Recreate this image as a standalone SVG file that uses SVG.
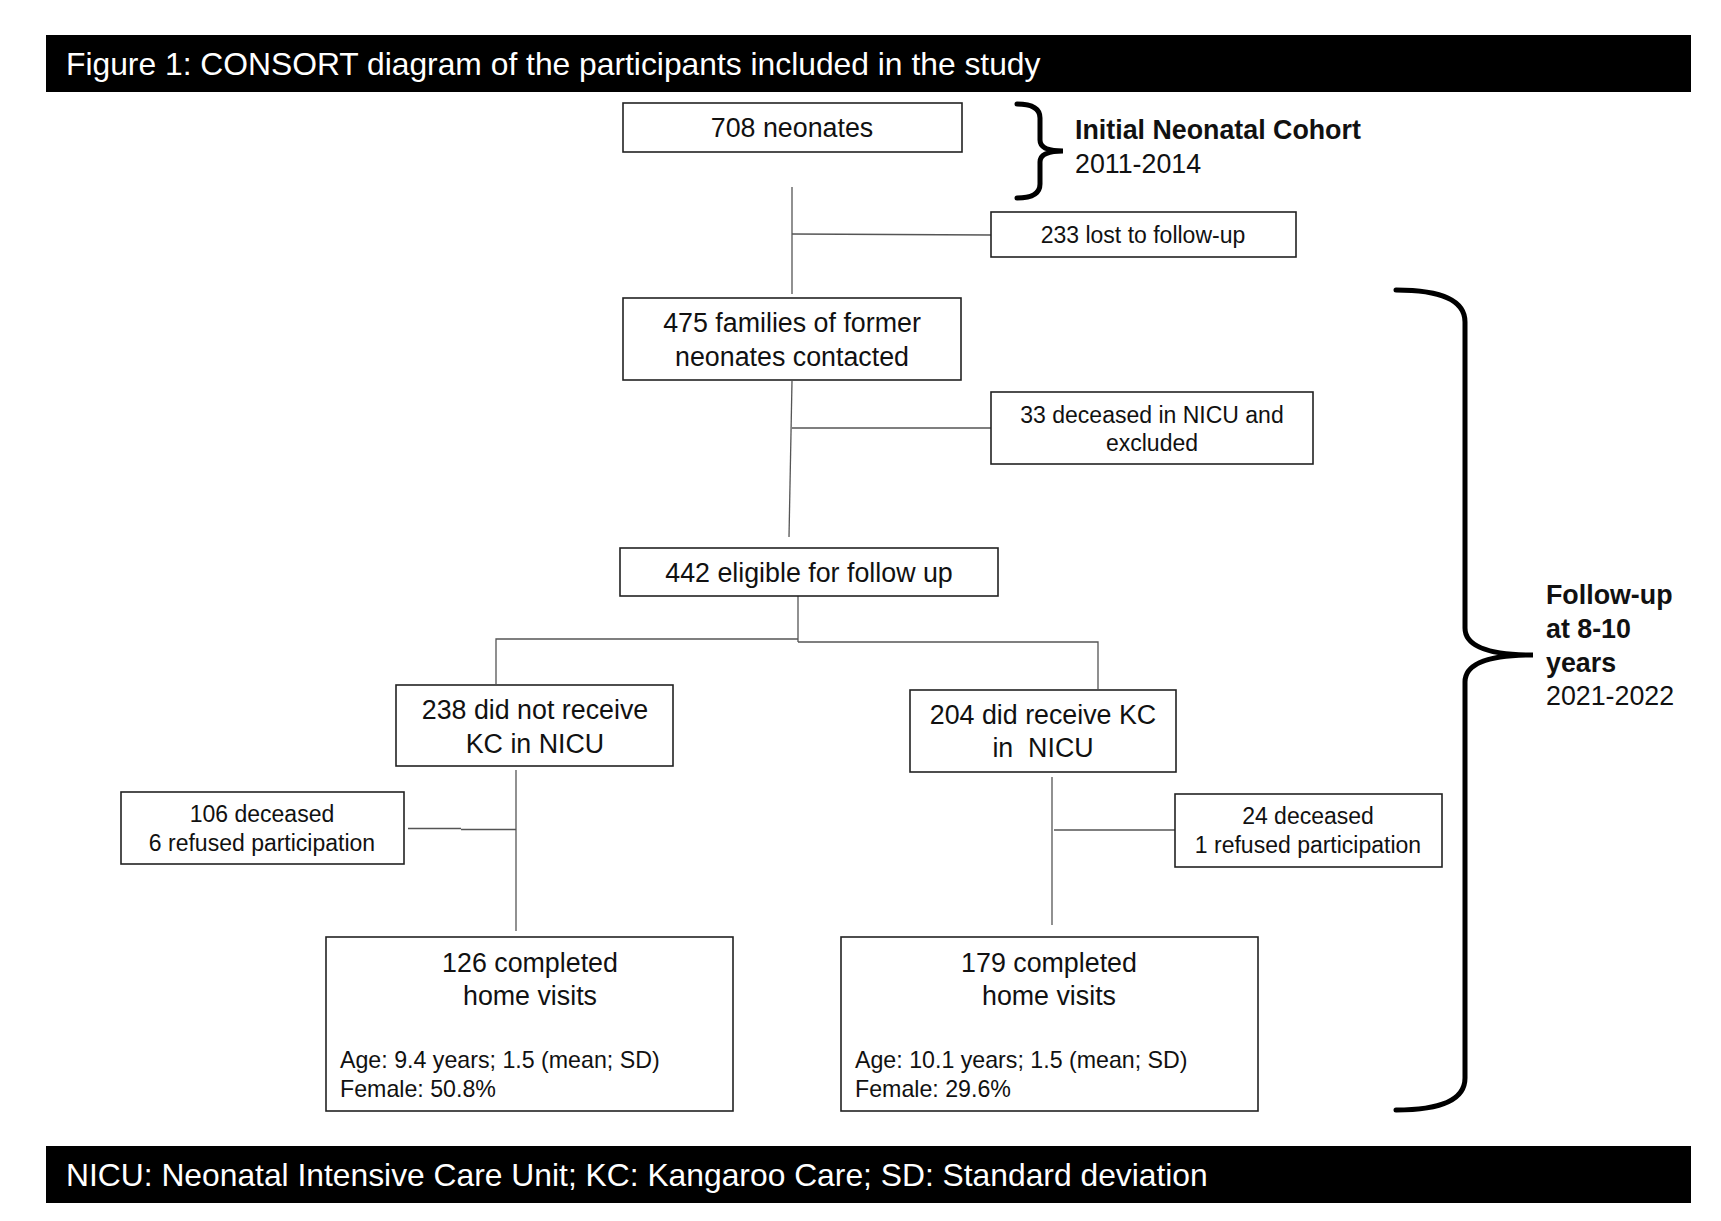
<svg xmlns="http://www.w3.org/2000/svg" width="1721" height="1221" viewBox="0 0 1721 1221">
<style>
text{font-family:"Liberation Sans",Arial,sans-serif;fill:#111}
.box{fill:#fff;stroke:#222;stroke-width:1.6}
.m{font-size:26.8px;text-anchor:middle}
.s{font-size:23px;text-anchor:middle}
.l{font-size:23.2px}
.b{font-size:26.8px;font-weight:bold}
.r{font-size:26.8px}
.bar{fill:#000}
.bt{font-size:31.8px;fill:#fff}
.c{fill:none;stroke:#555;stroke-width:1.3}
.br{fill:none;stroke:#000;stroke-width:5;stroke-linecap:round}
</style>
<rect width="1721" height="1221" fill="#fff"/>
<g id="header">
<rect class="bar" x="46" y="35" width="1645" height="57"/>
<text class="bt" x="66" y="75">Figure 1: CONSORT diagram of the participants included in the study</text>
</g>
<g id="connectors">
<line class="c" x1="792" y1="187" x2="792" y2="294"/>
<line class="c" x1="792" y1="234" x2="991" y2="235"/>
<line class="c" x1="792" y1="381" x2="789" y2="537"/>
<line class="c" x1="792" y1="428" x2="991" y2="428"/>
<line class="c" x1="798" y1="596" x2="798" y2="642"/>
<polyline class="c" points="798,639 496,639 496,684"/>
<polyline class="c" points="798,642 1098,642 1098,689"/>
<line class="c" x1="516" y1="770" x2="516" y2="931"/>
<line class="c" x1="408" y1="828.5" x2="461" y2="828.5"/>
<line class="c" x1="461" y1="829.5" x2="516" y2="829.5"/>
<line class="c" x1="1052" y1="777" x2="1052" y2="925"/>
<line class="c" x1="1054" y1="830" x2="1175" y2="830"/>
</g>
<g id="n708">
<rect class="box" x="623" y="103" width="339" height="49"/>
<text class="m" x="792" y="137">708 neonates</text>
</g>
<g id="cohort">
<path class="br" d="M1017,104 Q1040,104 1040,118 L1040,140 Q1040,151 1063,151 Q1040,151 1040,162 L1040,184 Q1040,198 1017,198"/>
<text class="b" x="1075" y="139">Initial Neonatal Cohort</text>
<text class="r" x="1075" y="173">2011-2014</text>
</g>
<g id="n233">
<rect class="box" x="991" y="212" width="305" height="45"/>
<text class="s" x="1143" y="243">233 lost to follow-up</text>
</g>
<g id="n475">
<rect class="box" x="623" y="298" width="338" height="82"/>
<text class="m" x="792" y="332">475 families of former</text>
<text class="m" x="792" y="366">neonates contacted</text>
</g>
<g id="n33">
<rect class="box" x="991" y="392" width="322" height="72"/>
<text class="s" x="1152" y="423">33 deceased in NICU and</text>
<text class="s" x="1152" y="451">excluded</text>
</g>
<g id="n442">
<rect class="box" x="620" y="548" width="378" height="48"/>
<text class="m" x="809" y="582">442 eligible for follow up</text>
</g>
<g id="n238">
<rect class="box" x="396" y="685" width="277" height="81"/>
<text class="m" x="535" y="719">238 did not receive</text>
<text class="m" x="535" y="753">KC in NICU</text>
</g>
<g id="n204">
<rect class="box" x="910" y="690" width="266" height="82"/>
<text class="m" x="1043" y="724">204 did receive KC</text>
<text class="m" x="1043" y="757" xml:space="preserve">in  NICU</text>
</g>
<g id="n106">
<rect class="box" x="121" y="792" width="283" height="72"/>
<text class="s" x="262" y="822">106 deceased</text>
<text class="s" x="262" y="851">6 refused participation</text>
</g>
<g id="n24">
<rect class="box" x="1175" y="794" width="267" height="73"/>
<text class="s" x="1308" y="824">24 deceased</text>
<text class="s" x="1308" y="853">1 refused participation</text>
</g>
<g id="n126">
<rect class="box" x="326" y="937" width="407" height="174"/>
<text class="m" x="530" y="972">126 completed</text>
<text class="m" x="530" y="1005">home visits</text>
<text class="l" x="340" y="1068">Age: 9.4 years; 1.5 (mean; SD)</text>
<text class="l" x="340" y="1097">Female: 50.8%</text>
</g>
<g id="n179">
<rect class="box" x="841" y="937" width="417" height="174"/>
<text class="m" x="1049" y="972">179 completed</text>
<text class="m" x="1049" y="1005">home visits</text>
<text class="l" x="855" y="1068">Age: 10.1 years; 1.5 (mean; SD)</text>
<text class="l" x="855" y="1097">Female: 29.6%</text>
</g>
<g id="followup">
<path class="br" d="M1396,290 Q1465,290 1465,322 L1465,628 Q1465,655 1533,655 Q1465,655 1465,682 L1465,1078 Q1465,1110 1396,1110"/>
<text class="b" x="1546" y="604">Follow-up</text>
<text class="b" x="1546" y="638">at 8-10</text>
<text class="b" x="1546" y="672">years</text>
<text class="r" x="1546" y="705">2021-2022</text>
</g>
<g id="footer">
<rect class="bar" x="46" y="1146" width="1645" height="57"/>
<text class="bt" x="66" y="1186">NICU: Neonatal Intensive Care Unit; KC: Kangaroo Care; SD: Standard deviation</text>
</g>
</svg>
